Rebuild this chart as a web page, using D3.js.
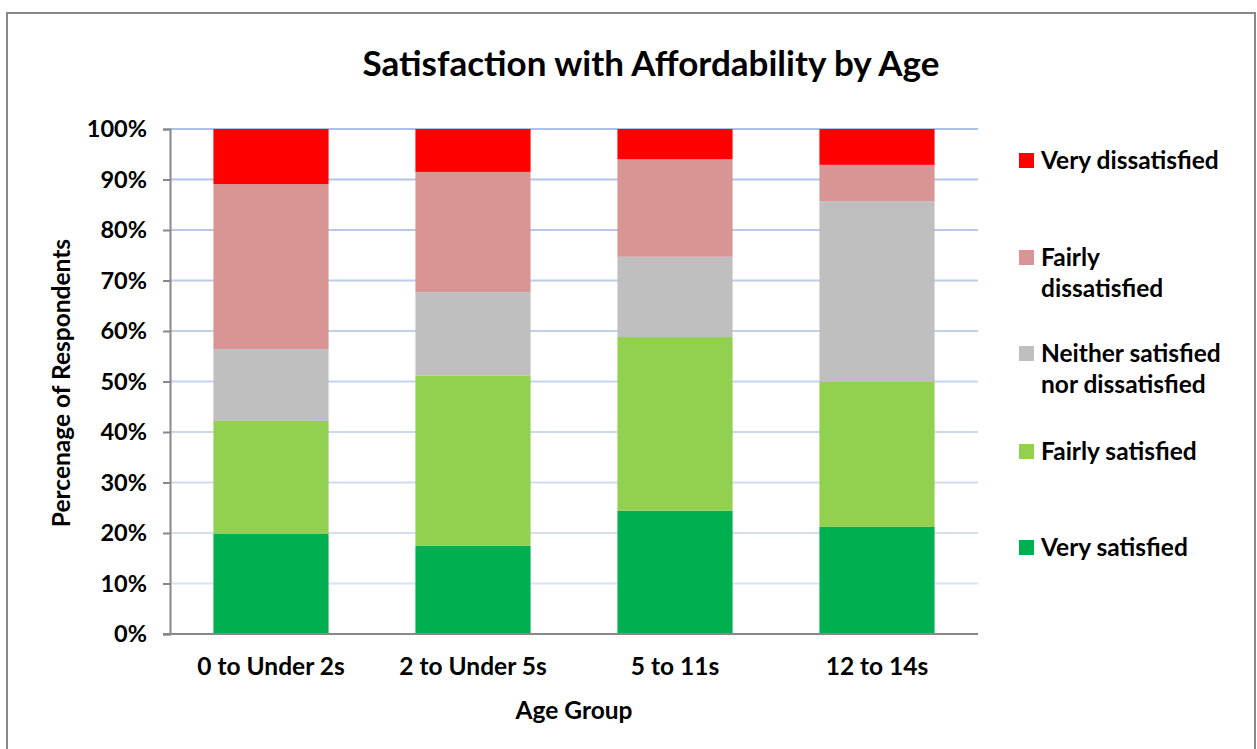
<!DOCTYPE html>
<html>
<head>
<meta charset="utf-8">
<script src="https://cdn.jsdelivr.net/npm/d3@7"></script>
<style>
  html, body { margin: 0; padding: 0; background: #fff; }
  svg { display: block; }
  text { font-family: Lato, "Open Sans", sans-serif; font-weight: bold; fill: #000; }
</style>
</head>
<body>
<svg id="chart" width="1257" height="749"></svg>
<script>
const categories = ["0 to Under 2s", "2 to Under 5s", "5 to 11s", "12 to 14s"];
const seriesNames = ["Very satisfied", "Fairly satisfied", "Neither satisfied nor dissatisfied", "Fairly dissatisfied", "Very dissatisfied"];
const verySatisfied = [19.9, 17.5, 24.4, 21.2];
const fairlySatisfied = [22.3, 33.7, 34.4, 28.7];
const neither = [14.2, 16.5, 15.9, 35.8];
const fairlyDissatisfied = [32.7, 23.8, 19.3, 7.2];
const veryDissatisfied = [10.9, 8.5, 6.0, 7.1];
const seriesColors = ["#00b050", "#92d050", "#bfbfbf", "#d99594", "#ff0000"];
const yTicks = [0, 10, 20, 30, 40, 50, 60, 70, 80, 90, 100];
const legendLines = [["Very dissatisfied"], ["Fairly", "dissatisfied"], ["Neither satisfied", "nor dissatisfied"], ["Fairly satisfied"], ["Very satisfied"]];

const seriesValues = [verySatisfied, fairlySatisfied, neither, fairlyDissatisfied, veryDissatisfied];
const rows = categories.map((c, i) => {
  const r = { cat: c };
  seriesNames.forEach((s, j) => r[s] = seriesValues[j][i]);
  return r;
});

const svg = d3.select("#chart");

// outer border
svg.append("rect").attr("x", 7).attr("y", 13).attr("width", 1248).attr("height", 760)
  .attr("fill", "#fff").attr("stroke", "#888").attr("stroke-width", 2);

const x = d3.scaleBand().domain(categories).range([170, 978]).paddingInner(0.43).paddingOuter(0.215);
const y = d3.scaleLinear().domain([0, 100]).range([634, 129]);

// gridlines
const gridColor = d3.scaleLinear().domain([0, 100]).range(["#dfe6f3", "#adc1e6"]);
svg.append("g").selectAll("line").data(yTicks.filter(t => t > 0)).join("line")
  .attr("x1", 170).attr("x2", 978)
  .attr("y1", d => y(d)).attr("y2", d => y(d))
  .attr("stroke", d => gridColor(d)).attr("stroke-width", 2);

// stacked bars
const stack = d3.stack().keys(seriesNames);
const stacked = stack(rows);
svg.append("g").selectAll("g").data(stacked).join("g")
  .attr("fill", (d, i) => seriesColors[i])
  .selectAll("rect").data(d => d).join("rect")
  .attr("x", d => x(d.data.cat))
  .attr("width", x.bandwidth())
  .attr("y", d => y(d[1]))
  .attr("height", d => y(d[0]) - y(d[1]));

// y axis
const yAxis = d3.axisLeft(y).tickValues(yTicks).tickFormat(d => d + "%").tickSize(7).tickPadding(16);
const gy = svg.append("g").attr("transform", "translate(170,0)").call(yAxis);
gy.select(".domain").attr("stroke", "#888").attr("stroke-width", 2);
gy.selectAll(".tick line").attr("stroke", "#888").attr("stroke-width", 2);
gy.selectAll(".tick text").style("font-size", "23.5px").attr("fill", "#000");

// x axis
const xAxis = d3.axisBottom(x).tickSize(0).tickPadding(24);
const gx = svg.append("g").attr("transform", "translate(0,634)").call(xAxis);
gx.select(".domain").attr("stroke", "#888").attr("stroke-width", 2).attr("d", "M163,0H978");
gx.selectAll(".tick text").style("font-size", "24.5px").attr("fill", "#000");

// title
svg.append("text").attr("x", 651).attr("y", 76).attr("text-anchor", "middle")
  .style("font-size", "35px").text("Satisfaction with Affordability by Age");

// axis titles
svg.append("text").attr("x", 574).attr("y", 719).attr("text-anchor", "middle")
  .style("font-size", "24.5px").text("Age Group");
svg.append("text").attr("transform", "translate(70,383) rotate(-90)").attr("text-anchor", "middle")
  .style("font-size", "24.5px").text("Percenage of Respondents");

// legend
const legendY = [160, 257, 353, 451, 547];
const legendColors = seriesColors.slice().reverse();
const lg = svg.append("g");
legendLines.forEach((lines, i) => {
  lg.append("rect").attr("x", 1019).attr("y", legendY[i] - 7).attr("width", 15).attr("height", 15)
    .attr("fill", legendColors[i]);
  const t = lg.append("text").attr("x", 1041).attr("y", legendY[i])
    .style("font-size", "24.5px");
  lines.forEach((ln, k) => {
    t.append("tspan").attr("x", 1041).attr("dy", k === 0 ? "0.35em" : "31px").text(ln);
  });
});
</script>
</body>
</html>
